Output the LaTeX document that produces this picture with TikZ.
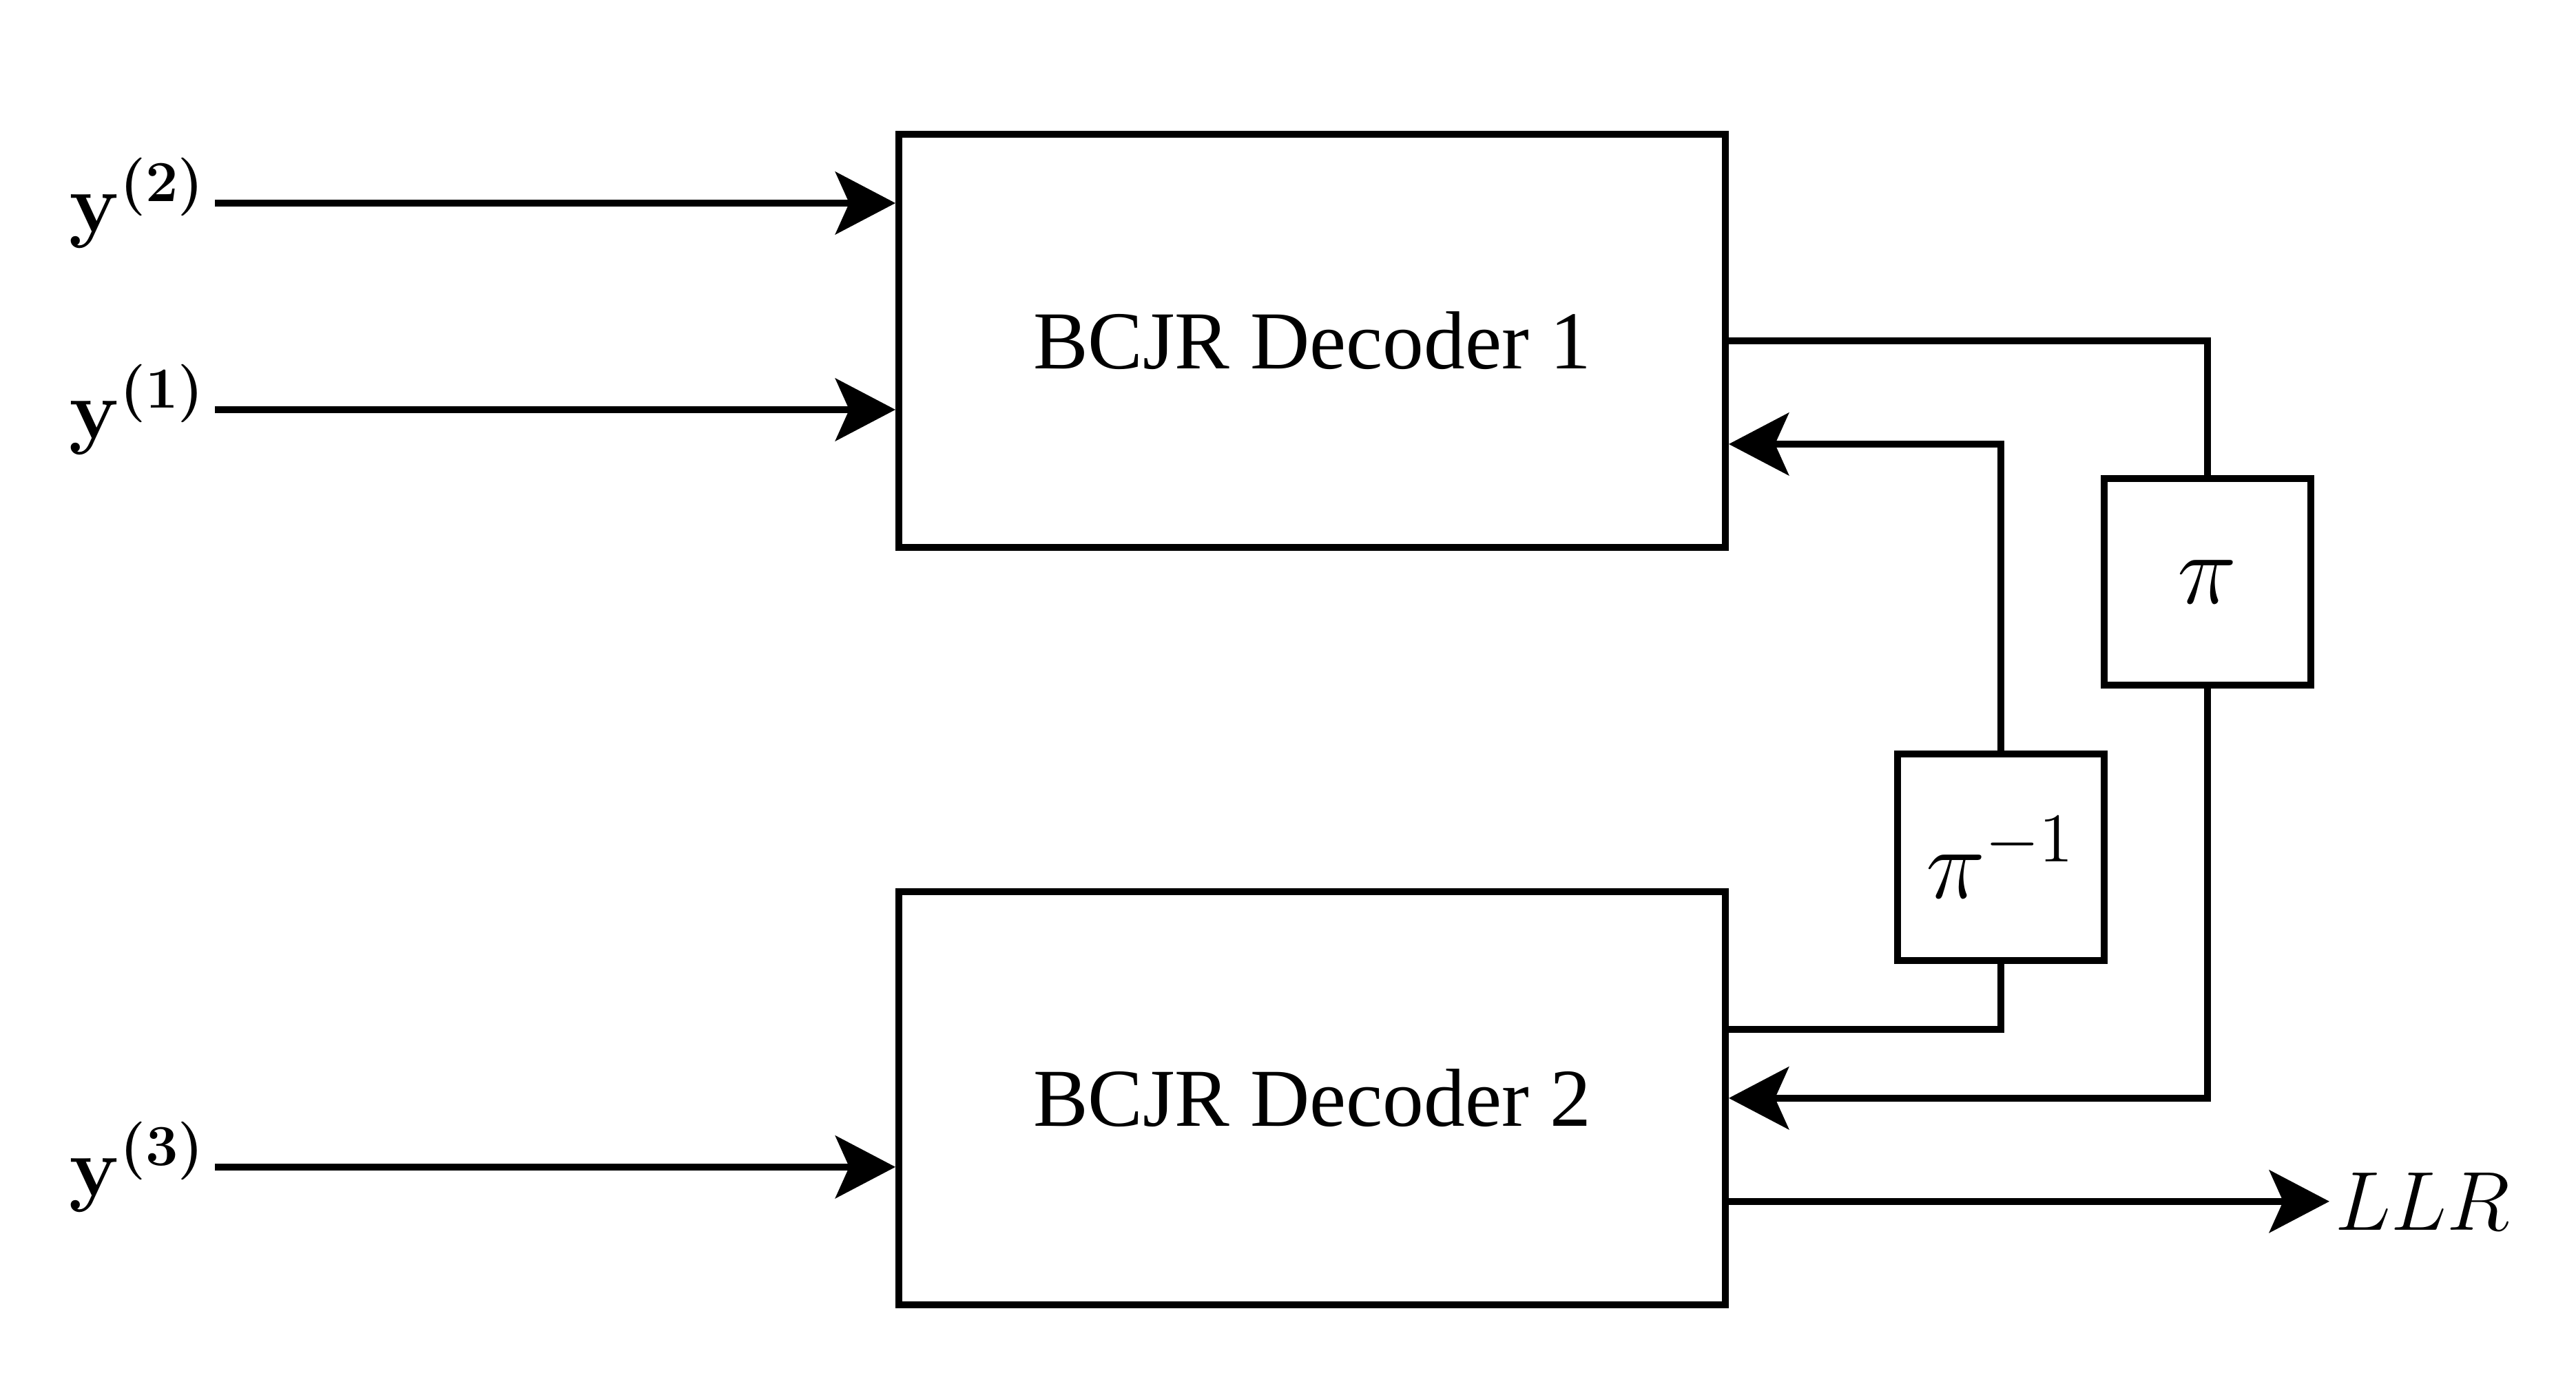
\documentclass[tikz,border=0pt]{standalone}
\usepackage{bm}
\usepackage[no-math]{fontspec}
\setmainfont{Liberation Serif}
\usetikzlibrary{positioning,arrows.meta}

\begin{document}
\begin{tikzpicture}[
              font=\fontsize{16.4pt}{20pt}\selectfont,
              block/.style={rectangle, draw, line width=1.4pt, minimum width=6cm, minimum height=3cm, font=\fontsize{17pt}{20pt}\selectfont},
              perm/.style={rectangle, draw, line width=1.4pt, minimum size=1.5cm, inner sep=0pt, font=\fontsize{20.7pt}{24pt}\selectfont},
              inlabel/.style={anchor=east, inner sep=1.6pt},
              arrow/.style={-{Stealth[length=12.4pt, width=12.9pt, inset=2.85pt]}, line width=1.4pt},
              wire/.style={line width=1.4pt}
            ]
              \useasboundingbox (0,0) rectangle (18.7,10.05);

              % Define decoder and interleaver nodes
              \node[block] (D1) at (9.525,7.575) {BCJR Decoder 1};
              \node[block, below=2.45cm of D1] (D2) {BCJR Decoder 2};
              \node[perm] (P) at (16.025,5.825) {$\pi$};
              \node[perm] (Pinv) at (14.525,3.825) {$\pi^{-1}$};

              % Define ports
              \coordinate (in2) at ([yshift=1cm]D1.west);
              \coordinate (in1) at ([yshift=-0.5cm]D1.west);
              \coordinate (in3) at ([yshift=-0.5cm]D2.west);
              \coordinate (out2) at ([yshift=-0.75cm]D2.east);

              % Input and output labels
              \node[inlabel] (Y2) at ([xshift=-4.94cm]in2) {$\bm{\mathbf{y}^{(2)}}$};
              \node[inlabel] (Y1) at ([xshift=-4.94cm]in1) {$\bm{\mathbf{y}^{(1)}}$};
              \node[inlabel] (Y3) at ([xshift=-4.94cm]in3) {$\bm{\mathbf{y}^{(3)}}$};
              \node[anchor=west, inner sep=1pt] (LLR) at ([xshift=4.36cm]out2) {$LLR$};

              % Draw arrows
              \draw[arrow] (Y2) -- (in2);
              \draw[arrow] (Y1) -- (in1);
              \draw[arrow] (Y3) -- (in3);
              \draw[wire] (D1.east) -| (P.north);
              \draw[arrow] (P.south) |- (D2.east);
              \draw[wire] ([yshift=0.5cm]D2.east) -| (Pinv.south);
              \draw[arrow] (Pinv.north) |- ([yshift=-0.75cm]D1.east);
              \draw[arrow] (out2) -- (LLR);
            \end{tikzpicture}
\end{document}
